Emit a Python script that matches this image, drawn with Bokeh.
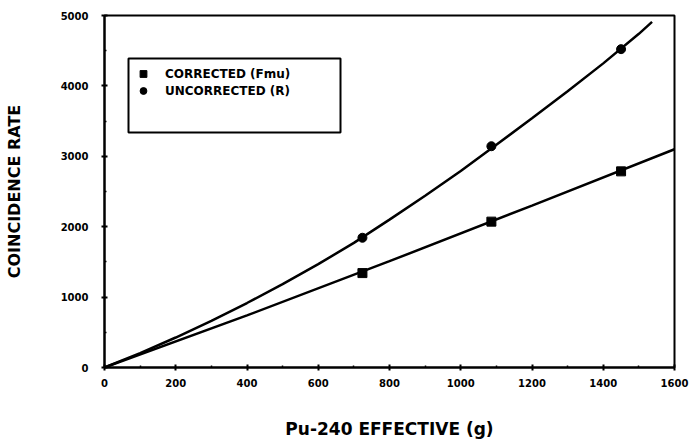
from bokeh.plotting import figure
from bokeh.models import Range1d, FixedTicker, Legend, LegendItem, BoxAnnotation
from bokeh.embed import file_html
from bokeh.resources import INLINE

# Data
pu240 = [724, 1086, 1450]
corrected = [1341, 2072, 2786]
uncorrected = [1843, 3143, 4522]

corr_fit_x = [0, 400, 800, 1200, 1600]
corr_fit_y = [0, 740, 1510, 2300, 3100]
unc_fit_x = [0, 100, 200, 300, 400, 500, 600, 700, 800, 900, 1000,
             1100, 1200, 1300, 1400, 1500, 1537]
unc_fit_y = [0, 205, 426, 663, 916, 1184, 1468, 1770, 2100, 2440, 2790,
             3165, 3540, 3925, 4320, 4740, 4910]

x_ticks = [0, 200, 400, 600, 800, 1000, 1200, 1400, 1600]
x_minor = [100, 300, 500, 700, 900, 1100, 1300, 1500]
y_ticks = [0, 1000, 2000, 3000, 4000, 5000]
y_minor = [500, 1500, 2500, 3500, 4500]

FONT = "DejaVu Sans"

p = figure(width=690, height=441, output_backend="svg", toolbar_location=None,
           x_range=Range1d(0, 1600), y_range=Range1d(0, 5000),
           min_border_left=104, min_border_right=16, min_border_top=15, min_border_bottom=67)
p.background_fill_color = "white"
p.border_fill_color = "white"
p.outline_line_color = "black"
p.outline_line_width = 2
p.xgrid.visible = False
p.ygrid.visible = False

for ax in (p.xaxis[0], p.yaxis[0]):
    ax.axis_line_width = 2
    ax.axis_line_color = "black"
    ax.major_tick_line_width = 2
    ax.minor_tick_line_width = 1.5
    ax.major_tick_in = 3
    ax.major_tick_out = 3
    ax.minor_tick_in = 2
    ax.minor_tick_out = 0
    ax.major_label_text_font = FONT
    ax.major_label_text_font_style = "bold"
    ax.major_label_text_font_size = "10px"
    ax.major_label_text_color = "black"
    ax.axis_label_text_font = FONT
    ax.axis_label_text_font_style = "bold"
    ax.axis_label_text_color = "black"

p.xaxis[0].axis_label_text_font_size = "17px"
p.yaxis[0].axis_label_text_font_size = "16px"
p.xaxis[0].ticker = FixedTicker(ticks=x_ticks, minor_ticks=x_minor)
p.yaxis[0].ticker = FixedTicker(ticks=y_ticks, minor_ticks=y_minor)
p.xaxis[0].axis_label = "Pu-240 EFFECTIVE (g)"
p.yaxis[0].axis_label = "COINCIDENCE RATE"
p.xaxis[0].major_label_standoff = 8
p.yaxis[0].major_label_standoff = 13
p.xaxis[0].axis_label_standoff = 29
p.yaxis[0].axis_label_standoff = 34

# fit curves
p.line(corr_fit_x, corr_fit_y, line_color="black", line_width=2.5)
p.line(unc_fit_x, unc_fit_y, line_color="black", line_width=2.5)

r_corr = p.scatter(pu240, corrected, marker="square", size=9, color="black")
r_unc = p.scatter(pu240, uncorrected, marker="circle", size=9, color="black")

# legend frame (canvas pixel units)
frame_box = BoxAnnotation(left=128, right=340, top=58, bottom=132,
                          left_units="canvas", right_units="canvas",
                          top_units="canvas", bottom_units="canvas",
                          fill_color="white", fill_alpha=1,
                          line_color="black", line_alpha=1, line_width=2)
p.add_layout(frame_box)

legend = Legend(items=[
    LegendItem(label="CORRECTED (Fmu)", renderers=[r_corr]),
    LegendItem(label="UNCORRECTED (R)", renderers=[r_unc]),
], location=(29, 268))
legend.border_line_alpha = 0
legend.background_fill_alpha = 0
legend.padding = 0
legend.spacing = 0
legend.margin = 0
legend.glyph_width = 20
legend.glyph_height = 17
legend.label_height = 17
legend.label_standoff = 12
legend.label_text_font = FONT
legend.label_text_font_style = "bold"
legend.label_text_font_size = "12px"
legend.label_text_color = "black"
p.add_layout(legend, "center")

open("out.html", "w").write(file_html(p, INLINE))
